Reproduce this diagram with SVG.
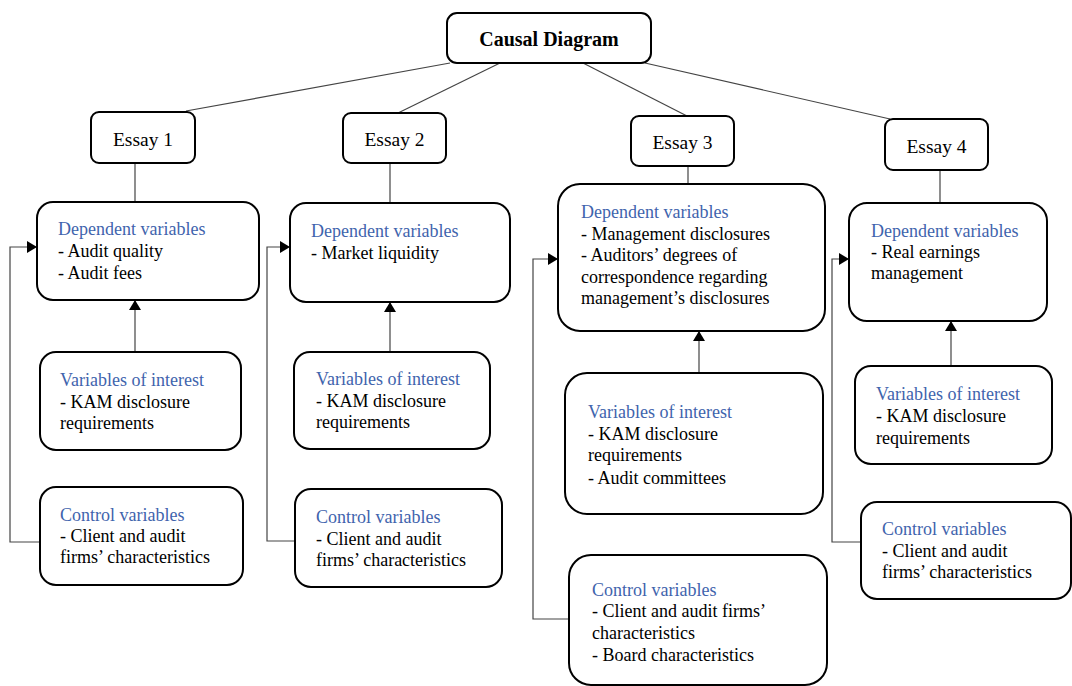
<svg xmlns="http://www.w3.org/2000/svg" width="1072" height="686" viewBox="0 0 1072 686">
<style>
.box{fill:#fff;stroke:#000;stroke-width:2}
.t{font-family:"Liberation Serif","Times New Roman",serif;font-size:18px;fill:#000}
.h{fill:#3f64ad}
.e{font-size:19.5px}
.b{font-weight:bold;font-size:20px}
.c{fill:none;stroke:#444;stroke-width:1.2}
</style>
<defs>
<marker id="ah" viewBox="0 0 10 12" refX="10" refY="6" markerWidth="10" markerHeight="12" markerUnits="userSpaceOnUse" orient="auto">
<path d="M0,0 L10,6 L0,12 Z" fill="#000"/>
</marker>
</defs>
<rect width="1072" height="686" fill="#fff"/>
<g id="connectors">
<line class="c" x1="450" y1="63" x2="186" y2="111"/>
<line class="c" x1="500" y1="63" x2="398" y2="113"/>
<line class="c" x1="583" y1="63" x2="687" y2="116"/>
<line class="c" x1="645" y1="63" x2="890" y2="119"/>
<line class="c" x1="135" y1="163" x2="135" y2="202"/>
<line class="c" x1="390" y1="163" x2="390" y2="203"/>
<line class="c" x1="688" y1="166" x2="688" y2="184"/>
<line class="c" x1="940" y1="170" x2="940" y2="203"/>
<line class="c" x1="135" y1="352" x2="135" y2="300" marker-end="url(#ah)"/>
<line class="c" x1="390" y1="352" x2="390" y2="302" marker-end="url(#ah)"/>
<line class="c" x1="699" y1="373" x2="699" y2="331" marker-end="url(#ah)"/>
<line class="c" x1="951" y1="366" x2="951" y2="321" marker-end="url(#ah)"/>
<polyline class="c" points="40,542 10,542 10,247 37,247" marker-end="url(#ah)"/>
<polyline class="c" points="295,541 267,541 267,247 290,247" marker-end="url(#ah)"/>
<polyline class="c" points="569,619 533,619 533,259 558,259" marker-end="url(#ah)"/>
<polyline class="c" points="861,542 832,542 832,259 849,259" marker-end="url(#ah)"/>
</g>
<g id="causal">
<rect class="box" x="447" y="13" width="204" height="50" rx="10"/>
<text class="t b" x="549" y="46" text-anchor="middle">Causal Diagram</text>
</g>
<g id="essay1">
<rect class="box" x="91" y="112" width="104" height="51" rx="8"/>
<text class="t e" x="143" y="146" text-anchor="middle">Essay 1</text>
</g>
<g id="essay2">
<rect class="box" x="343" y="113" width="103" height="50" rx="8"/>
<text class="t e" x="394.5" y="146" text-anchor="middle">Essay 2</text>
</g>
<g id="essay3">
<rect class="box" x="631" y="116" width="103" height="50" rx="8"/>
<text class="t e" x="682.5" y="149" text-anchor="middle">Essay 3</text>
</g>
<g id="essay4">
<rect class="box" x="885" y="119" width="103" height="51" rx="8"/>
<text class="t e" x="936.5" y="153" text-anchor="middle">Essay 4</text>
</g>
<g id="dv1">
<rect class="box" x="37" y="202" width="222" height="98" rx="16"/>
<text class="t" x="58" y="235"><tspan class="h">Dependent variables</tspan><tspan x="58" y="257">- Audit quality</tspan><tspan x="58" y="279">- Audit fees</tspan></text>
</g>
<g id="dv2">
<rect class="box" x="290" y="203" width="220" height="99" rx="16"/>
<text class="t" x="311" y="237"><tspan class="h">Dependent variables</tspan><tspan x="311" y="259">- Market liquidity</tspan></text>
</g>
<g id="dv3">
<rect class="box" x="558" y="184" width="267" height="147" rx="22"/>
<text class="t" x="581" y="218"><tspan class="h">Dependent variables</tspan><tspan x="581" y="239.5">- Management disclosures</tspan><tspan x="581" y="261">- Auditors’ degrees of</tspan><tspan x="581" y="282.5">correspondence regarding</tspan><tspan x="581" y="304">management’s disclosures</tspan></text>
</g>
<g id="dv4">
<rect class="box" x="849" y="203" width="198" height="118" rx="18"/>
<text class="t" x="871" y="237"><tspan class="h">Dependent variables</tspan><tspan x="871" y="258">- Real earnings</tspan><tspan x="871" y="279">management</tspan></text>
</g>
<g id="voi1">
<rect class="box" x="40" y="352" width="201" height="98" rx="16"/>
<text class="t" x="60" y="386"><tspan class="h">Variables of interest</tspan><tspan x="60" y="408">- KAM disclosure</tspan><tspan x="60" y="429">requirements</tspan></text>
</g>
<g id="voi2">
<rect class="box" x="294" y="352" width="196" height="97" rx="16"/>
<text class="t" x="316" y="385"><tspan class="h">Variables of interest</tspan><tspan x="316" y="407">- KAM disclosure</tspan><tspan x="316" y="428">requirements</tspan></text>
</g>
<g id="voi3">
<rect class="box" x="565" y="373" width="258" height="141" rx="22"/>
<text class="t" x="588" y="418"><tspan class="h">Variables of interest</tspan><tspan x="588" y="440">- KAM disclosure</tspan><tspan x="588" y="461">requirements</tspan><tspan x="588" y="484">- Audit committees</tspan></text>
</g>
<g id="voi4">
<rect class="box" x="855" y="366" width="197" height="98" rx="16"/>
<text class="t" x="876" y="400"><tspan class="h">Variables of interest</tspan><tspan x="876" y="422">- KAM disclosure</tspan><tspan x="876" y="444">requirements</tspan></text>
</g>
<g id="cv1">
<rect class="box" x="40" y="487" width="203" height="98" rx="16"/>
<text class="t" x="60" y="521"><tspan class="h">Control variables</tspan><tspan x="60" y="542">- Client and audit</tspan><tspan x="60" y="563">firms’ characteristics</tspan></text>
</g>
<g id="cv2">
<rect class="box" x="295" y="489" width="207" height="98" rx="16"/>
<text class="t" x="316" y="523"><tspan class="h">Control variables</tspan><tspan x="316" y="545">- Client and audit</tspan><tspan x="316" y="566">firms’ characteristics</tspan></text>
</g>
<g id="cv3">
<rect class="box" x="569" y="555" width="258" height="130" rx="22"/>
<text class="t" x="592" y="596"><tspan class="h">Control variables</tspan><tspan x="592" y="617">- Client and audit firms’</tspan><tspan x="592" y="639">characteristics</tspan><tspan x="592" y="661">- Board characteristics</tspan></text>
</g>
<g id="cv4">
<rect class="box" x="861" y="502" width="210" height="97" rx="16"/>
<text class="t" x="882" y="535"><tspan class="h">Control variables</tspan><tspan x="882" y="557">- Client and audit</tspan><tspan x="882" y="578">firms’ characteristics</tspan></text>
</g>
</svg>
